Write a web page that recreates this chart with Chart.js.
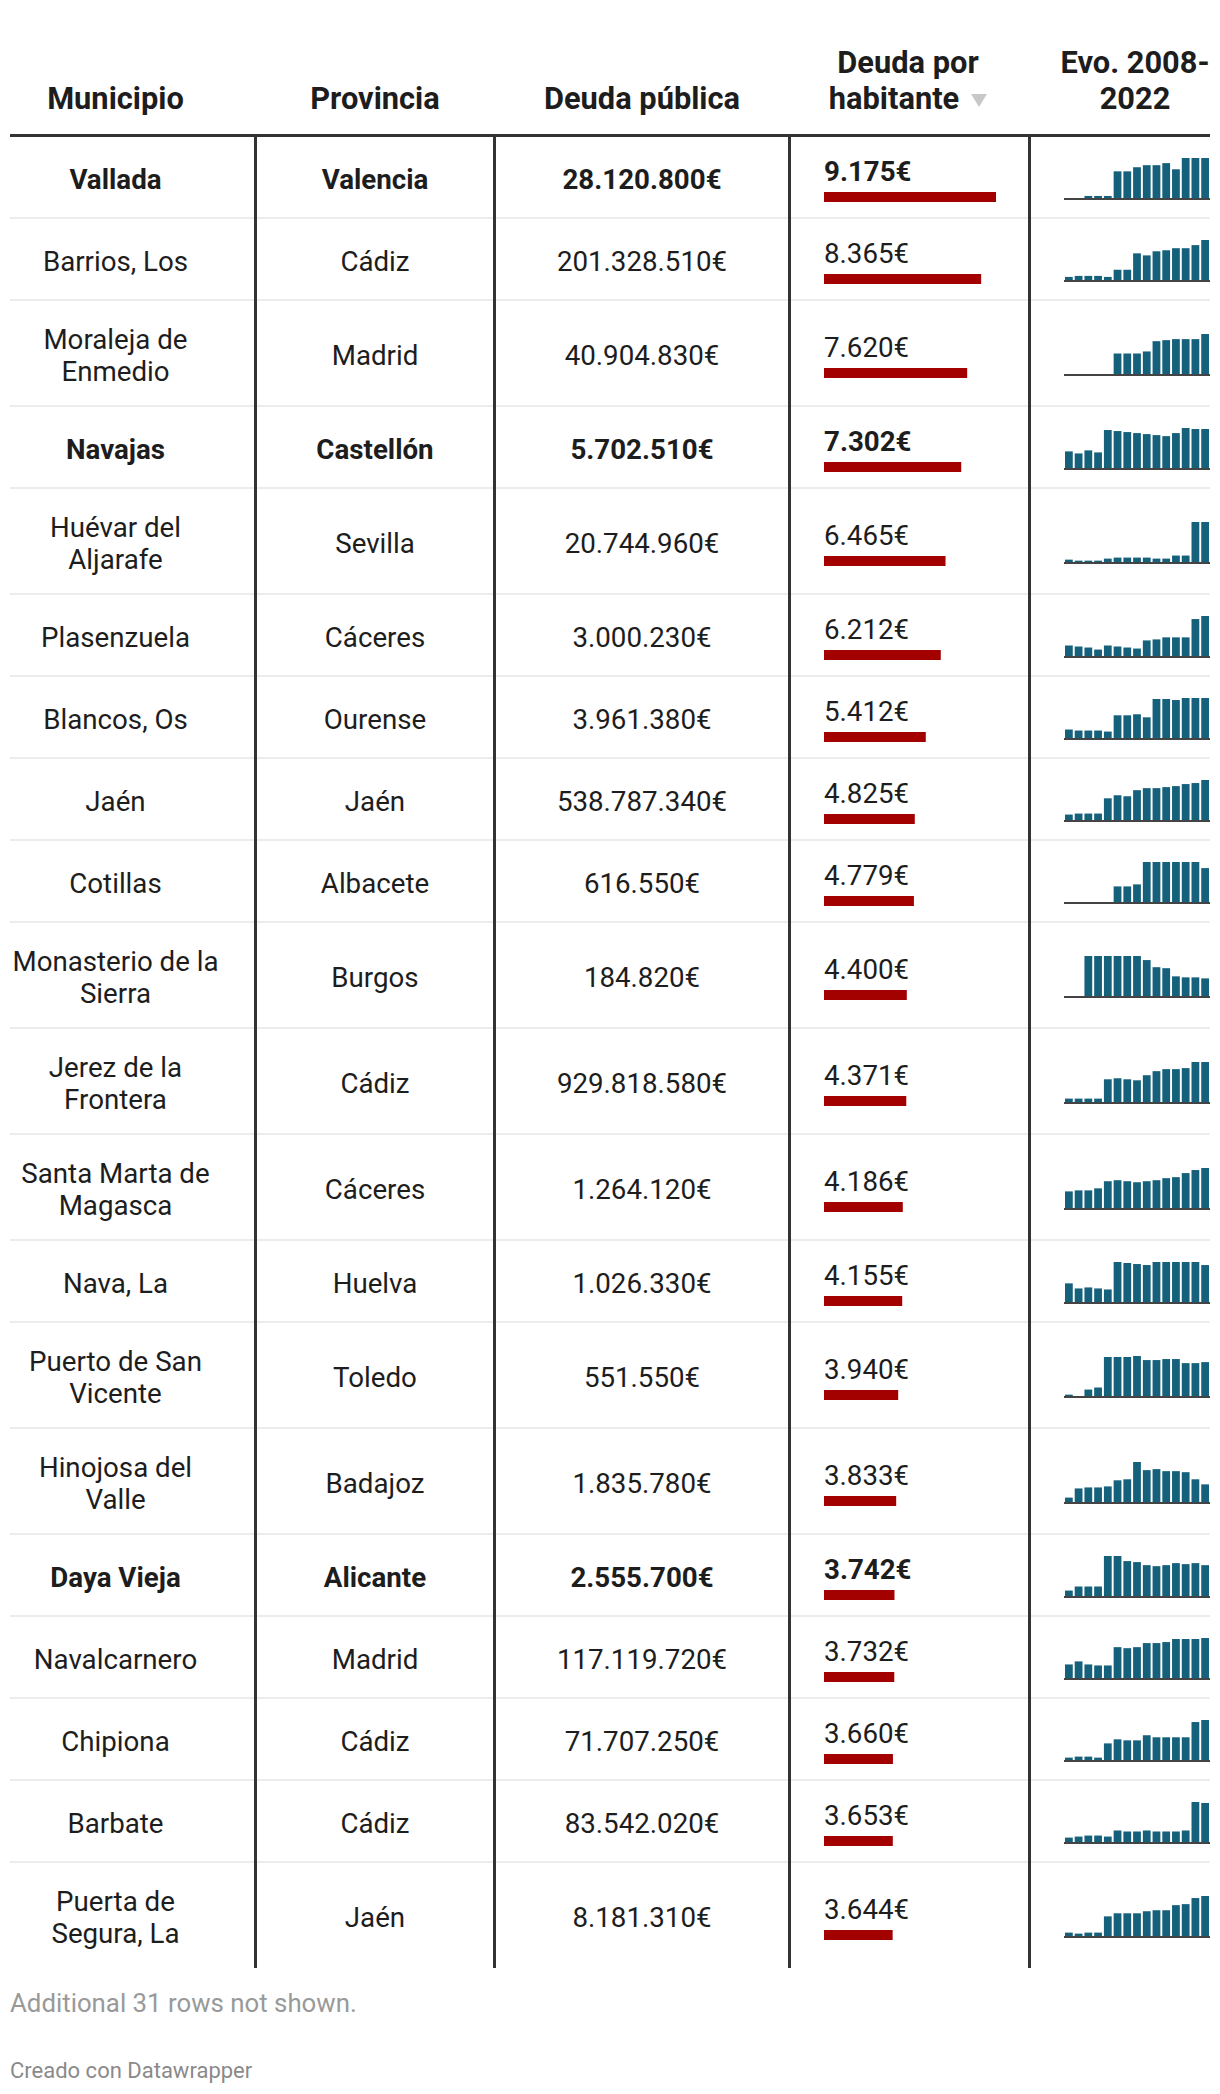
<!DOCTYPE html>
<html lang="es">
<head>
<meta charset="utf-8">
<script src="https://cdn.jsdelivr.net/npm/chart.js@4.4.1/dist/chart.umd.min.js"></script>
<style>
html,body{margin:0;padding:0;background:#fff;}
body{width:1220px;height:2094px;position:relative;overflow:hidden;font-family:Roboto,"Noto Sans",sans-serif;color:#1d1d1d;}
#wrap{position:absolute;left:10px;top:46px;width:1200px;}
.hdr{display:flex;height:91px;box-sizing:border-box;border-bottom:3px solid #333;padding-bottom:16.5px;font-weight:700;font-size:30.8px;line-height:36.5px;}
.hdr > div{display:flex;flex-direction:column;justify-content:flex-end;text-align:center;white-space:pre;box-sizing:border-box;}
.row{display:flex;min-height:82px;box-sizing:border-box;border-bottom:2px solid #ececec;font-size:27.7px;line-height:32px;}
.row.last{border-bottom:none;min-height:80px;}
.row.bold{font-weight:700;}
.row > div{box-sizing:border-box;display:flex;align-items:center;}
.row .c1,.row .c2,.row .c3{padding-top:23px;padding-bottom:17px;}
.c1{width:247px;padding-right:36px;}
.c2{width:239px;padding-left:3px;padding-right:6px;}
.c3{width:295px;padding-left:3px;padding-right:6px;}
.c4{width:240px;padding-left:33px;}
.c5{width:179px;padding-left:33px;}
.row .c1,.row .c2,.row .c3{justify-content:center;text-align:center;}
.row .c4{flex-direction:column;align-items:flex-start !important;justify-content:center;padding-top:4px;}
.row .c5{padding-top:3px;}
.hdr .c4{padding-right:39px;}
.hdr .c5{padding-left:29px;}
.num{line-height:32px;white-space:nowrap;}
.bar{display:block;margin-top:4.5px;}
.spark{display:block;}
.txt{width:100%;}
.sep{position:absolute;top:91px;width:3px;background:#333;}
.arrow{display:inline-block;width:0;height:0;border-left:8px solid transparent;border-right:8px solid transparent;border-top:13px solid #c8c8c8;margin-left:12px;margin-bottom:2px;}
#nota{position:absolute;left:10px;top:1987.7px;font-size:25.8px;line-height:31px;color:#999;}
#credito{position:absolute;left:10px;top:2057.5px;font-size:22px;line-height:26px;color:#8a8a8a;}
</style>
</head>
<body>
<div id="wrap"></div>
<div id="nota"></div>
<div id="credito"></div>
<script>
// ---------- DATA ----------
const columnas = ['Municipio', 'Provincia', 'Deuda pública', 'Deuda por\nhabitante', 'Evo. 2008-\n2022'];
const municipios = ['Vallada', 'Barrios, Los', 'Moraleja de Enmedio', 'Navajas', 'Huévar del Aljarafe', 'Plasenzuela', 'Blancos, Os', 'Jaén', 'Cotillas', 'Monasterio de la Sierra', 'Jerez de la Frontera', 'Santa Marta de Magasca', 'Nava, La', 'Puerto de San Vicente', 'Hinojosa del Valle', 'Daya Vieja', 'Navalcarnero', 'Chipiona', 'Barbate', 'Puerta de Segura, La'];
const provincias = ['Valencia', 'Cádiz', 'Madrid', 'Castellón', 'Sevilla', 'Cáceres', 'Ourense', 'Jaén', 'Albacete', 'Burgos', 'Cádiz', 'Cáceres', 'Huelva', 'Toledo', 'Badajoz', 'Alicante', 'Madrid', 'Cádiz', 'Cádiz', 'Jaén'];
const deudaPublica = [28120800, 201328510, 40904830, 5702510, 20744960, 3000230, 3961380, 538787340, 616550, 184820, 929818580, 1264120, 1026330, 551550, 1835780, 2555700, 117119720, 71707250, 83542020, 8181310];
const deudaPorHabitante = [9175, 8365, 7620, 7302, 6465, 6212, 5412, 4825, 4779, 4400, 4371, 4186, 4155, 3940, 3833, 3742, 3732, 3660, 3653, 3644];
const destacados = ['Vallada', 'Navajas', 'Daya Vieja'];
const anios = ['2008','2009','2010','2011','2012','2013','2014','2015','2016','2017','2018','2019','2020','2021','2022'];
const evolucion = [
  [0, 0, 6, 6, 6, 78, 78, 90, 96, 96, 102, 84, 117, 117, 117],
  [9, 12, 12, 12, 9, 30, 30, 78, 72, 84, 87, 93, 93, 102, 117],
  [0, 0, 0, 0, 0, 60, 60, 60, 66, 96, 99, 102, 102, 102, 117],
  [49, 43, 52, 46, 112, 109, 106, 103, 100, 97, 94, 103, 118, 115, 115],
  [7, 4, 4, 4, 10, 13, 13, 13, 13, 10, 10, 19, 19, 118, 118],
  [31, 28, 25, 19, 31, 28, 25, 22, 46, 49, 55, 55, 55, 109, 118],
  [25, 22, 22, 22, 19, 67, 67, 70, 61, 115, 115, 112, 118, 118, 118],
  [16, 19, 19, 19, 64, 73, 70, 88, 94, 94, 97, 100, 106, 109, 118],
  [0, 0, 0, 0, 0, 46, 46, 52, 118, 118, 118, 118, 118, 118, 100],
  [0, 0, 118, 118, 118, 118, 118, 118, 106, 85, 82, 58, 55, 55, 52],
  [10, 10, 10, 10, 67, 70, 67, 64, 79, 91, 97, 97, 100, 118, 118],
  [49, 52, 52, 58, 79, 82, 79, 76, 79, 82, 88, 91, 103, 112, 118],
  [55, 40, 43, 40, 37, 118, 115, 112, 109, 118, 118, 118, 118, 118, 109],
  [4, 0, 19, 25, 115, 115, 115, 118, 106, 106, 109, 109, 97, 97, 100],
  [13, 40, 43, 43, 46, 64, 67, 118, 94, 97, 91, 91, 88, 67, 52],
  [16, 28, 28, 28, 118, 118, 103, 100, 91, 88, 91, 97, 94, 97, 91],
  [40, 49, 40, 37, 37, 91, 88, 91, 103, 103, 106, 115, 115, 115, 118],
  [7, 10, 10, 7, 49, 61, 58, 58, 73, 67, 67, 67, 67, 112, 118],
  [13, 16, 19, 19, 16, 34, 31, 31, 34, 31, 31, 31, 34, 118, 115],
  [10, 7, 10, 10, 58, 67, 67, 67, 73, 76, 76, 91, 94, 112, 118]
];
const nota = 'Additional 31 rows not shown.';
const credito = 'Creado con Datawrapper';

// ---------- STYLE CONSTANTS ----------
const ROJO = '#a30000';
const AZUL = '#15607a';
const BAR_W = 172;       // width of the largest per-capita bar
const SPARK_W = 146, SPARK_H = 42;

function fmt(n){ return String(n).replace(/\B(?=(\d{3})+(?!\d))/g, '.') + '€'; }

const wrap = document.getElementById('wrap');
// header
const hdr = document.createElement('div');
hdr.className = 'hdr';
columnas.forEach((c, i) => {
  const d = document.createElement('div');
  d.className = 'c' + (i + 1);
  const t = document.createElement('div');
  t.className = 'txt';
  t.textContent = c;
  if (i === 3) {
    const a = document.createElement('span');
    a.className = 'arrow';
    t.appendChild(a);
  }
  d.appendChild(t);
  hdr.appendChild(d);
});
wrap.appendChild(hdr);

const barCanvases = [], sparkCanvases = [];
municipios.forEach((m, i) => {
  const r = document.createElement('div');
  r.className = 'row' + (destacados.includes(m) ? ' bold' : '') + (i === municipios.length - 1 ? ' last' : '');
  const c1 = document.createElement('div'); c1.className = 'c1';
  const t1 = document.createElement('div'); t1.textContent = m; c1.appendChild(t1);
  const c2 = document.createElement('div'); c2.className = 'c2'; c2.textContent = provincias[i];
  const c3 = document.createElement('div'); c3.className = 'c3'; c3.textContent = fmt(deudaPublica[i]);
  const c4 = document.createElement('div'); c4.className = 'c4';
  const n = document.createElement('div'); n.className = 'num'; n.textContent = fmt(deudaPorHabitante[i]);
  const cv = document.createElement('canvas'); cv.className = 'bar'; cv.width = BAR_W; cv.height = 10;
  cv.style.width = BAR_W + 'px'; cv.style.height = '10px';
  c4.appendChild(n); c4.appendChild(cv);
  const c5 = document.createElement('div'); c5.className = 'c5';
  const sv = document.createElement('canvas'); sv.className = 'spark'; sv.width = SPARK_W; sv.height = SPARK_H;
  sv.style.width = SPARK_W + 'px'; sv.style.height = SPARK_H + 'px';
  c5.appendChild(sv);
  [c1, c2, c3, c4, c5].forEach(c => r.appendChild(c));
  wrap.appendChild(r);
  barCanvases.push(cv); sparkCanvases.push(sv);
});

// vertical separators
const totalH = wrap.getBoundingClientRect().height;
[244, 483, 778, 1018].forEach(x => {
  const s = document.createElement('div');
  s.className = 'sep';
  s.style.left = x + 'px';
  s.style.height = (totalH - 91 + 1) + 'px';
  wrap.appendChild(s);
});

document.getElementById('nota').textContent = nota;
document.getElementById('credito').textContent = credito;

// ---------- CHARTS ----------
const maxHab = Math.max(...deudaPorHabitante);
const common = {
  responsive: false, animation: false, events: [], devicePixelRatio: 1,
  plugins: { legend: { display: false }, tooltip: { enabled: false } }
};
deudaPorHabitante.forEach((v, i) => {
  new Chart(barCanvases[i], {
    type: 'bar',
    data: { labels: [municipios[i]], datasets: [{ data: [v], backgroundColor: ROJO, borderWidth: 0, barPercentage: 1, categoryPercentage: 1 }] },
    options: Object.assign({}, common, {
      indexAxis: 'y',
      layout: { padding: 0 },
      scales: { x: { display: false, min: 0, max: maxHab }, y: { display: false } }
    })
  });
});

const baseLine = {
  id: 'baseLine',
  afterDatasetsDraw(chart) {
    const { ctx, scales: { y } } = chart;
    const py = y.getPixelForValue(0);
    ctx.save();
    ctx.fillStyle = '#444';
    ctx.fillRect(0, py, chart.width, 2);
    ctx.restore();
  }
};
evolucion.forEach((serie, i) => {
  new Chart(sparkCanvases[i], {
    type: 'bar',
    data: { labels: anios, datasets: [{ data: serie, backgroundColor: AZUL, borderWidth: 0, barPercentage: 0.8, categoryPercentage: 1 }] },
    options: Object.assign({}, common, {
      layout: { padding: { bottom: 2 } },
      scales: { x: { display: false }, y: { display: false, min: 0, max: Math.max(...serie) } }
    }),
    plugins: [baseLine]
  });
});
</script>
</body>
</html>
